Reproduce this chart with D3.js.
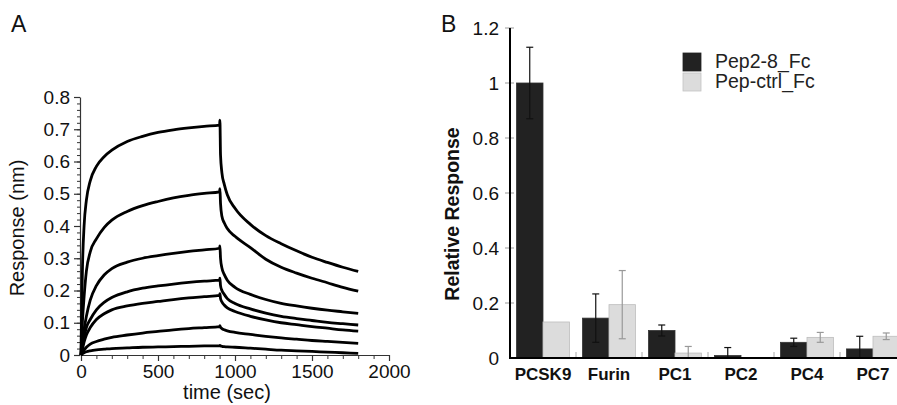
<!DOCTYPE html>
<html>
<head>
<meta charset="utf-8">
<script src="https://cdn.jsdelivr.net/npm/d3@7"></script>
<style>
body { margin: 0; background: #fff; }
svg { display: block; font-family: "Liberation Sans", Arial, sans-serif; }
</style>
</head>
<body>
<div id="chart"></div>
<script>
// panel A: binding sensorgrams (association 0-900 s, dissociation 900-1800 s)
var times = [0, 5, 10, 20, 35, 60, 100, 150, 200, 300, 400, 500, 600, 700, 800, 900,
  902, 906, 915, 930, 950, 1000, 1100, 1200, 1300, 1400, 1500, 1600, 1700, 1800];
var curve1 = [0, 0.16, 0.28, 0.40, 0.48, 0.54, 0.585, 0.615, 0.635, 0.662, 0.678, 0.69, 0.698, 0.704, 0.709, 0.713,
  0.728, 0.62, 0.565, 0.53, 0.497, 0.455, 0.405, 0.37, 0.345, 0.323, 0.303, 0.287, 0.272, 0.259];
var curve2 = [0, 0.06, 0.11, 0.18, 0.26, 0.32, 0.36, 0.395, 0.418, 0.445, 0.463, 0.476, 0.487, 0.495, 0.501, 0.506,
  0.516, 0.47, 0.43, 0.41, 0.392, 0.368, 0.333, 0.297, 0.272, 0.254, 0.238, 0.224, 0.21, 0.198];
var curve3 = [0, 0.025, 0.045, 0.08, 0.12, 0.17, 0.215, 0.248, 0.268, 0.288, 0.30, 0.308, 0.315, 0.321, 0.326, 0.331,
  0.338, 0.3, 0.27, 0.25, 0.232, 0.21, 0.188, 0.172, 0.16, 0.152, 0.145, 0.139, 0.134, 0.129];
var curve4 = [0, 0.015, 0.03, 0.055, 0.085, 0.11, 0.14, 0.163, 0.178, 0.196, 0.207, 0.214, 0.22, 0.225, 0.229, 0.232,
  0.238, 0.215, 0.2, 0.188, 0.175, 0.16, 0.143, 0.13, 0.12, 0.113, 0.107, 0.101, 0.097, 0.093];
var curve5 = [0, 0.01, 0.02, 0.04, 0.062, 0.085, 0.11, 0.128, 0.14, 0.152, 0.16, 0.166, 0.172, 0.177, 0.181, 0.185,
  0.19, 0.175, 0.165, 0.155, 0.146, 0.135, 0.12, 0.109, 0.1, 0.094, 0.088, 0.083, 0.078, 0.074];
var curve6 = [0, 0.004, 0.008, 0.015, 0.024, 0.034, 0.042, 0.049, 0.055, 0.062, 0.068, 0.073, 0.078, 0.082, 0.085, 0.088,
  0.091, 0.086, 0.082, 0.078, 0.075, 0.07, 0.064, 0.058, 0.053, 0.049, 0.045, 0.042, 0.039, 0.036];
var curve7 = [0, 0.002, 0.004, 0.007, 0.01, 0.013, 0.016, 0.018, 0.02, 0.022, 0.024, 0.025, 0.026, 0.027, 0.028, 0.029,
  0.03, 0.028, 0.027, 0.026, 0.025, 0.024, 0.021, 0.018, 0.015, 0.013, 0.011, 0.009, 0.007, 0.005];
var curves = [curve1, curve2, curve3, curve4, curve5, curve6, curve7];

var xTicksA = [0, 500, 1000, 1500, 2000];
var yTicksA = [0, 0.1, 0.2, 0.3, 0.4, 0.5, 0.6, 0.7, 0.8];

// panel B: relative response bars
var categories = ['PCSK9', 'Furin', 'PC1', 'PC2', 'PC4', 'PC7'];
var seriesNames = ['Pep2-8_Fc', 'Pep-ctrl_Fc'];
var pep28 = [1.0, 0.145, 0.1, 0.009, 0.057, 0.033];
var pep28Err = [0.13, 0.088, 0.02, 0.029, 0.015, 0.046];
var pepCtrl = [0.131, 0.194, 0.018, 0, 0.075, 0.079];
var pepCtrlErr = [0, 0.124, 0.024, 0, 0.018, 0.012];
var yTicksB = [0, 0.2, 0.4, 0.6, 0.8, 1, 1.2];

var width = 897;
var height = 405;
var fill = ['#222222', '#dcdcdc'];
var errColor = ['#111111', '#999999'];

var svg = d3.select('#chart')
  .append('svg')
  .attr('width', width)
  .attr('height', height);

// ---------- panel A ----------
var xA = d3.scaleLinear().domain([0, 2000]).range([81, 389]);
var yA = d3.scaleLinear().domain([0, 0.8]).range([355, 97]);

svg.append('text').attr('x', 11).attr('y', 32)
  .attr('font-size', 23).attr('fill', '#111').text('A');

// minor ticks
svg.append('g')
  .attr('transform', 'translate(0,355)')
  .call(d3.axisBottom(xA).tickValues(d3.range(0, 2001, 100)).tickSize(4).tickFormat(''))
  .call(g => g.select('.domain').remove())
  .selectAll('line').attr('stroke', '#333');
svg.append('g')
  .attr('transform', 'translate(80,0)')
  .call(d3.axisLeft(yA).tickValues(d3.range(0, 0.801, 0.02)).tickSize(3).tickFormat(''))
  .call(g => g.select('.domain').remove())
  .selectAll('line').attr('stroke', '#333');

var xAxisA = svg.append('g')
  .attr('transform', 'translate(0,355)')
  .call(d3.axisBottom(xA).tickValues(xTicksA).tickSizeInner(6).tickSizeOuter(0).tickPadding(4)
    .tickFormat(d3.format('d')));
var yAxisA = svg.append('g')
  .attr('transform', 'translate(80,0)')
  .call(d3.axisLeft(yA).tickValues(yTicksA).tickSizeInner(6).tickSizeOuter(0).tickPadding(4)
    .tickFormat(d3.format('~g')));

[xAxisA, yAxisA].forEach(function(g) {
  g.selectAll('text')
    .attr('font-size', 19)
    .attr('font-family', '"Liberation Sans", Arial, sans-serif')
    .attr('fill', '#111');
  g.selectAll('line, .domain').attr('stroke', '#333').attr('stroke-width', 1.2);
});

svg.append('text')
  .attr('transform', 'translate(24,228) rotate(-90)')
  .attr('text-anchor', 'middle')
  .attr('font-size', 20).attr('fill', '#111')
  .text('Response (nm)');
svg.append('text')
  .attr('x', 227).attr('y', 399)
  .attr('text-anchor', 'middle')
  .attr('font-size', 20).attr('fill', '#111')
  .text('time (sec)');

var line = d3.line()
  .x((d, i) => xA(times[i]))
  .y((d) => yA(d))
  .curve(d3.curveMonotoneX);

svg.selectAll('.sensorgram')
  .data(curves)
  .enter()
  .append('path')
  .attr('class', 'sensorgram')
  .attr('d', line)
  .attr('fill', 'none')
  .attr('stroke', '#000')
  .attr('stroke-width', 2.8)
  .attr('stroke-linejoin', 'round');

// ---------- panel B ----------
var x0 = d3.scaleBand().domain(categories).range([510, 906]);
var x1 = d3.scaleBand().domain(seriesNames).range([0, x0.bandwidth()])
  .paddingInner(0).paddingOuter(0.245);
var yB = d3.scaleLinear().domain([0, 1.2]).range([358, 28]);

svg.append('text').attr('x', 441).attr('y', 32)
  .attr('font-size', 23).attr('fill', '#111').text('B');

var yAxisB = svg.append('g')
  .attr('transform', 'translate(510,0)')
  .call(d3.axisLeft(yB).tickValues(yTicksB).tickSize(0).tickPadding(11)
    .tickFormat(d3.format('~g')));
yAxisB.select('.domain').remove();
yAxisB.selectAll('text')
  .attr('font-size', 19)
  .attr('font-family', '"Liberation Sans", Arial, sans-serif')
  .attr('fill', '#111');

// small grey ticks crossing the value axis
svg.selectAll('.ytickB')
  .data(yTicksB.slice(1))
  .enter()
  .append('line')
  .attr('class', 'ytickB')
  .attr('x1', 505).attr('x2', 514)
  .attr('y1', (d) => yB(d)).attr('y2', (d) => yB(d))
  .attr('stroke', '#999').attr('stroke-width', 1);

// category separators
svg.selectAll('.sepB')
  .data(categories.slice(1))
  .enter()
  .append('line')
  .attr('class', 'sepB')
  .attr('x1', (d) => x0(d)).attr('x2', (d) => x0(d))
  .attr('y1', yB(0)).attr('y2', yB(0) - 6)
  .attr('stroke', '#aaa').attr('stroke-width', 1);

var barData = categories.map(function(c, i) {
  return [
    { cat: c, s: 0, v: pep28[i], e: pep28Err[i] },
    { cat: c, s: 1, v: pepCtrl[i], e: pepCtrlErr[i] }
  ];
});

var groups = svg.selectAll('.grp')
  .data(barData)
  .enter()
  .append('g')
  .attr('class', 'grp')
  .attr('transform', (d, i) => 'translate(' + x0(categories[i]) + ',0)');

groups.selectAll('rect')
  .data((d) => d)
  .enter()
  .append('rect')
  .attr('x', (d) => x1(seriesNames[d.s]))
  .attr('y', (d) => yB(d.v))
  .attr('width', x1.bandwidth())
  .attr('height', (d) => yB(0) - yB(d.v))
  .attr('fill', (d) => fill[d.s])
  .attr('stroke', (d) => d.s ? '#bdbdbd' : '#333')
  .attr('stroke-width', 0.8);

var errs = groups.selectAll('.err')
  .data((d) => d.filter((b) => b.e > 0))
  .enter()
  .append('g')
  .attr('class', 'err')
  .attr('stroke', (d) => errColor[d.s])
  .attr('stroke-width', 1.2);

errs.append('line')
  .attr('x1', (d) => x1(seriesNames[d.s]) + x1.bandwidth() / 2)
  .attr('x2', (d) => x1(seriesNames[d.s]) + x1.bandwidth() / 2)
  .attr('y1', (d) => yB(d.v + d.e))
  .attr('y2', (d) => yB(Math.max(0, d.v - d.e)));
errs.append('line')
  .attr('x1', (d) => x1(seriesNames[d.s]) + x1.bandwidth() / 2 - 3.5)
  .attr('x2', (d) => x1(seriesNames[d.s]) + x1.bandwidth() / 2 + 3.5)
  .attr('y1', (d) => yB(d.v + d.e))
  .attr('y2', (d) => yB(d.v + d.e));
errs.filter((d) => d.v - d.e > 0).append('line')
  .attr('x1', (d) => x1(seriesNames[d.s]) + x1.bandwidth() / 2 - 3.5)
  .attr('x2', (d) => x1(seriesNames[d.s]) + x1.bandwidth() / 2 + 3.5)
  .attr('y1', (d) => yB(d.v - d.e))
  .attr('y2', (d) => yB(d.v - d.e));

// axis lines
svg.append('line')
  .attr('x1', 510).attr('x2', 510).attr('y1', yB(1.2)).attr('y2', yB(0) + 1)
  .attr('stroke', '#000').attr('stroke-width', 2);
svg.append('line')
  .attr('x1', 509).attr('x2', width).attr('y1', yB(0)).attr('y2', yB(0))
  .attr('stroke', '#000').attr('stroke-width', 2);

// category labels
svg.selectAll('.catB')
  .data(categories)
  .enter()
  .append('text')
  .attr('class', 'catB')
  .attr('x', (d) => x0(d) + x0.bandwidth() / 2)
  .attr('y', 380)
  .attr('text-anchor', 'middle')
  .attr('font-size', 17)
  .attr('font-weight', 'bold')
  .attr('fill', '#111')
  .text((d) => d);

svg.append('text')
  .attr('transform', 'translate(459,214) rotate(-90)')
  .attr('text-anchor', 'middle')
  .attr('font-size', 19.5)
  .attr('font-weight', 'bold')
  .attr('fill', '#111')
  .text('Relative Response');

// legend
var legend = svg.selectAll('.leg')
  .data(seriesNames)
  .enter()
  .append('g')
  .attr('class', 'leg')
  .attr('transform', (d, i) => 'translate(683,' + (53 + i * 20) + ')');
legend.append('rect')
  .attr('width', 18).attr('height', 18)
  .attr('fill', (d, i) => fill[i])
  .attr('stroke', (d, i) => i ? '#c4c4c4' : '#222')
  .attr('stroke-width', 0.8);
legend.append('text')
  .attr('x', 32).attr('y', 15)
  .attr('font-size', 19.5)
  .attr('fill', '#222')
  .text((d) => d);
</script>
</body>
</html>
